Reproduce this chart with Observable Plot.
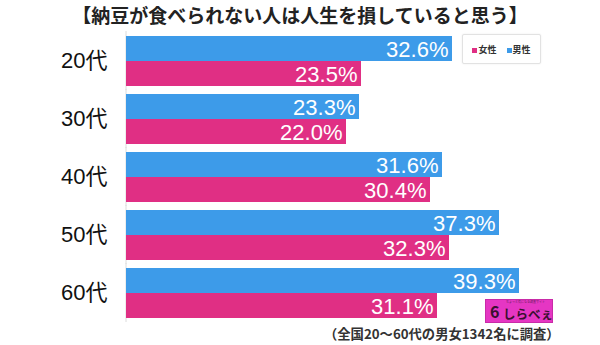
<!DOCTYPE html>
<html>
<head>
<meta charset="utf-8">
<script src="https://cdn.jsdelivr.net/npm/d3@7"></script>
<script src="https://cdn.jsdelivr.net/npm/@observablehq/plot@0.6"></script>
<style>
  body { margin: 0; background: #fff; }
  #wrap { position: relative; width: 600px; height: 345px; overflow: hidden; font-family: "Noto Sans CJK JP", "Liberation Sans", sans-serif; }
  #title { height: 30px; line-height: 30px; text-align: center; font-size: 19px; font-weight: bold; color: #222; }
  #caption { height: 20px; line-height: 18px; padding-left: 324px; font-size: 13.3px; font-weight: bold; color: #333; white-space: nowrap; }
  #legend { position: absolute; left: 462px; top: 34px; width: 77px; height: 28px; border: 1px solid #e2e2e2; border-radius: 2px; background: #fff; box-shadow: 0 0 2px rgba(0,0,0,0.08); font-size: 9px; font-weight: bold; color: #333; display: flex; align-items: center; justify-content: center; gap: 10px; }
  #legend span.sq { display: inline-block; width: 5px; height: 5px; margin-right: 1px; vertical-align: middle; }
  #logo { position: absolute; left: 485px; top: 299px; width: 68px; height: 24px; background: #e536c3; border: 1px solid #c92ba8; box-sizing: border-box; color: #3a1030; font-weight: bold; white-space: nowrap; }
  #logo .tag { position: absolute; left: 20px; top: 1px; font-size: 3px; line-height: 3px; color: #6a2060; font-weight: normal; }
  #logo .mark { position: absolute; left: 4px; top: 2px; font-size: 16px; line-height: 19px; color: #3a1030; }
  #logo .main { position: absolute; left: 17px; top: 6px; font-size: 12.5px; line-height: 15px; color: #3a1030; }
</style>
</head>
<body>
<div id="wrap">
  <div id="title">【納豆が食べられない人は人生を損していると思う】</div>
  <div id="chart"></div>
  <div id="caption">（全国20～60代の男女1342名に調査）</div>
  <div id="legend"></div>
  <div id="logo"><span class="tag">ちょっと気になる調査サイト</span><span class="mark">6</span><span class="main">しらべぇ</span></div>
</div>
<script>
const ages = ["20代", "30代", "40代", "50代", "60代"];
const seriesNames = ["男性", "女性"];
const male = [32.6, 23.3, 31.6, 37.3, 39.3];
const female = [23.5, 22.0, 30.4, 32.3, 31.1];
const colors = ["#3d9be9", "#e02f84"];
const legendOrder = ["女性", "男性"];

const data = [];
ages.forEach((a, i) => {
  data.push({age: a, sex: seriesNames[0], value: male[i]});
  data.push({age: a, sex: seriesNames[1], value: female[i]});
});

const leg = document.getElementById("legend");
legendOrder.forEach(s => {
  const d = document.createElement("div");
  const c = colors[seriesNames.indexOf(s)];
  d.innerHTML = `<span class="sq" style="background:${c}"></span>${s}`;
  leg.appendChild(d);
});

const chart = Plot.plot({
  width: 600,
  height: 295,
  marginLeft: 126,
  marginRight: 0,
  marginTop: 4,
  marginBottom: 6,
  style: {fontFamily: "'Liberation Sans', 'Noto Sans CJK JP', sans-serif", fontSize: "22px", color: "#111", background: "transparent"},
  x: {domain: [0, 47.4], axis: null},
  y: {domain: seriesNames, padding: 0, axis: null},
  fy: {domain: ages, padding: 0.125, label: null, axis: "left", tickSize: 0, tickPadding: 19},
  color: {domain: seriesNames, range: colors},
  marks: [
    Plot.ruleX([0], {stroke: "#dcdcdc", strokeWidth: 1, insetTop: -4, insetBottom: -4, dx: -0.5}),
    Plot.barX(data, {fy: "age", y: "sex", x: "value", fill: "sex"}),
    Plot.text(data, {fy: "age", y: "sex", x: "value", text: d => d.value.toFixed(1) + "%", textAnchor: "end", dx: -4, dy: 1, fill: "white", fontSize: 22})
  ]
});
document.getElementById("chart").appendChild(chart);
</script>
</body>
</html>
